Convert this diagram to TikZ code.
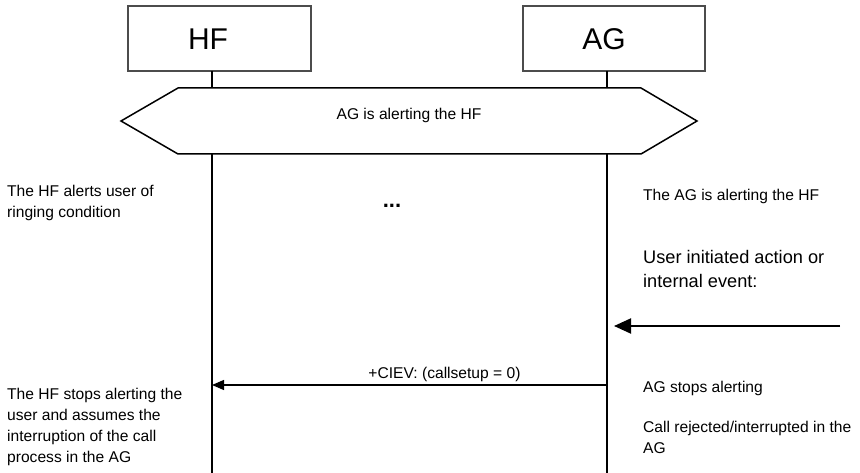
\documentclass[tikz,border=0pt]{standalone}
\usepackage{fontspec}
\setmainfont{Liberation Sans}
\usetikzlibrary{positioning,arrows.meta}

\newcommand{\notesize}{\fontsize{15.6}{21}\selectfont}

\begin{document}
\begin{tikzpicture}[
  x=1pt, y=-1pt,
  every node/.style={align=center},
  entity/.style={rectangle, draw=black!70, line width=1.3pt,
                 minimum height=65pt, inner sep=0pt},
  ename/.style ={font=\fontsize{30}{30}\selectfont, inner sep=0pt},
  life/.style  ={line width=2pt, draw=black},
  note/.style  ={font=\notesize, align=left, anchor=west, inner sep=0pt},
  msg/.style   ={-{Triangle[length=12pt,width=10pt]}, line width=1.2pt},
  ext/.style   ={-{Triangle[length=17pt,width=15pt]}, line width=2pt},
]
\useasboundingbox (0,0) rectangle (860,473);

% Entities
\node[entity, minimum width=183pt] (hf) at (219.5,38.5) {};
\node[entity, minimum width=182pt] (ag) at (614,38.5) {};
\node[ename] (hfname) at (208,39) {HF};
\node[ename] (agname) at (604,39) {AG};

% Condition box
\draw[line width=1.5pt] (121,121) -- (178,88) -- (641,88) -- (697,121)
  -- (641,154) -- (178,154) -- cycle;
\node[font=\notesize, inner sep=0pt] (cond) at (409,115) {AG is alerting the HF};

% Lifelines
\coordinate (hf top) at (212,71);
\coordinate (ag top) at (607,71);
\draw[life] (hf top) -- (212,88);
\draw[life] (ag top) -- (607,88);
\draw[life] (212,154) -- (212,473);
\draw[life] (607,154) -- (607,473);

\node[font=\bfseries\fontsize{22}{22}\selectfont, inner sep=0pt] (dots) at (392,206) {...};

% -------- notes -----------------------------------------------------------
\node[note] (hfn1) at (7,202.5) {The HF alerts user of\\ringing condition};
\node[note] (hfn2) at (7,426.5) {The HF stops alerting the\\user and assumes the\\interruption of the call\\process in the AG};
\node[note] (agn1) at (643,196) {The AG is alerting the HF};
\node[note, font=\fontsize{18.2}{24}\selectfont] (agn2) at (643,269)
     {User initiated action or\\internal event:};
\node[note] (agn3) at (643,388) {AG stops alerting};
\node[note] (agn4) at (643,437) {Call rejected/interrupted in the\\AG};

% -------- messages --------------------------------------------------------
\coordinate (env) at (840,326);
\coordinate (ag in) at (614,326);
\draw[ext] (env) -- (ag in);

\coordinate (ag out) at (607,385);
\coordinate (hf in) at (212,385);
\draw[msg] (ag out) -- (hf in)
  node[midway, above=3pt, font=\notesize, inner sep=0pt, xshift=35pt] (ciev)
  {+CIEV: (callsetup = 0)};

\end{tikzpicture}
\end{document}
